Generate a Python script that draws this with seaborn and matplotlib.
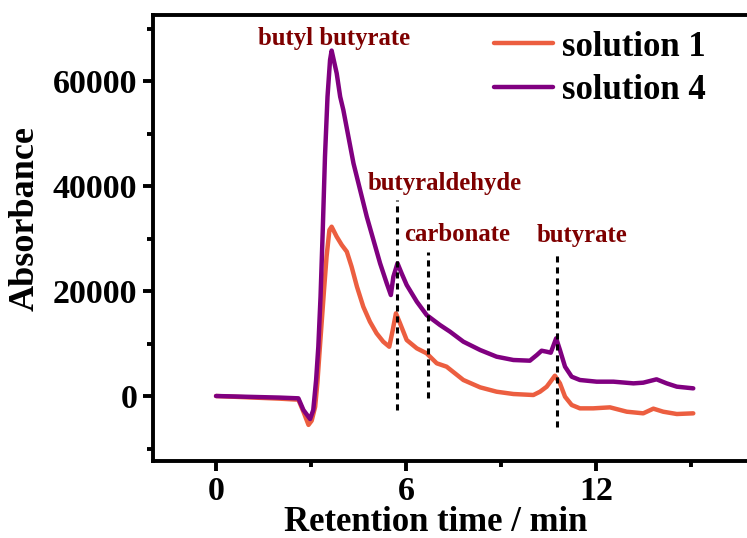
import matplotlib
matplotlib.use("Agg")
import matplotlib.pyplot as plt
import seaborn as sns
import pandas as pd
from matplotlib.ticker import MultipleLocator

sns.set_style("ticks")
plt.rcParams["font.family"] = ["Liberation Serif", "DejaVu Serif"]
plt.rcParams["font.weight"] = "bold"
for key in ["text.color", "axes.labelcolor", "xtick.color", "ytick.color",
            "axes.edgecolor"]:
    plt.rcParams[key] = "black"

# Chromatogram of solution 1
t_sol1 = [0, 1.0, 2.0, 2.6, 2.76, 2.92, 3.02, 3.13, 3.2, 3.28, 3.41, 3.49, 3.58, 3.65,
          3.81, 3.97, 4.13, 4.28, 4.45, 4.65, 4.86, 5.07, 5.28, 5.47, 5.58, 5.68, 5.81,
          6.02, 6.34, 6.65, 6.97, 7.28, 7.81, 8.34, 8.86, 9.39, 10.02, 10.23, 10.44,
          10.6, 10.7, 10.86, 11.02, 11.23, 11.49, 11.91, 12.44, 12.97, 13.49, 13.81,
          14.12, 14.55, 15.07]
y_sol1 = [0, -250, -500, -700, -3000, -5500, -4700, -2030, 2500, 9390, 20190, 26540,
          31620, 32250, 30350, 28770, 27490, 24640, 20820, 17010, 14150, 11940, 10350,
          9390, 12570, 15750, 13850, 10670, 9080, 8130, 6230, 5590, 3050, 1650, 820,
          380, 190, 820, 1770, 3050, 3870, 2410, -130, -1710, -2350, -2350, -2160,
          -2990, -3300, -2410, -2990, -3430, -3300]

# Chromatogram of solution 4
t_sol4 = [0, 1.0, 2.0, 2.6, 2.76, 2.97, 3.07, 3.16, 3.23, 3.30, 3.37, 3.44, 3.52, 3.60,
          3.65, 3.81, 3.92, 4.02, 4.18, 4.34, 4.55, 4.76, 4.97, 5.18, 5.39, 5.52, 5.60,
          5.73, 5.86, 6.02, 6.34, 6.65, 7.07, 7.39, 7.81, 8.34, 8.86, 9.39, 9.91,
          10.13, 10.28, 10.44, 10.57, 10.74, 10.86, 11.02, 11.23, 11.49, 12.02, 12.55,
          13.18, 13.49, 13.91, 14.23, 14.55, 15.07]
y_sol4 = [0, -150, -300, -440, -2670, -4380, -2670, 3050, 9390, 18920, 31620, 45590,
          57020, 64000, 65800, 61470, 57020, 54480, 49400, 44330, 39240, 34160, 29720,
          25280, 21470, 19240, 22730, 25280, 23370, 21150, 17970, 15430, 13530, 12250,
          10350, 8760, 7490, 6860, 6730, 7810, 8630, 8440, 8250, 10990, 8760, 5590,
          3680, 3050, 2730, 2730, 2410, 2540, 3180, 2410, 1780, 1460]

series_names = ["solution 1", "solution 4"]
series_colors = ["#EC5E40", "#800080"]

# Peak assignments: label, marker line position and extent, label anchor
peak_names = ["butyl butyrate", "butyraldehyde", "carbonate", "butyrate"]
peak_line_x = [None, 5.70, 6.68, 10.76]
peak_line_ymin = [None, -2700, -450, -5900]
peak_line_ymax = [None, 37300, 27500, 27500]
peak_label_x = [3.73, 7.23, 7.61, 11.56]
peak_label_y = [68100, 40400, 30700, 30500]

df = pd.concat([
    pd.DataFrame({"time": t_sol1, "absorbance": y_sol1, "sample": series_names[0]}),
    pd.DataFrame({"time": t_sol4, "absorbance": y_sol4, "sample": series_names[1]}),
], ignore_index=True)

fig = plt.figure(figsize=(7.47, 5.38), dpi=100)
ax = fig.add_axes([152.7 / 747, 77 / 538, 601.7 / 747, 446 / 538])

sns.lineplot(data=df, x="time", y="absorbance", hue="sample", hue_order=series_names,
             palette=series_colors, linewidth=3.2, sort=False, estimator=None, ax=ax)
for line in ax.get_lines():
    line.set_solid_joinstyle("round")
    line.set_solid_capstyle("round")

for name, lx, y0, y1, tx, ty in zip(peak_names, peak_line_x, peak_line_ymin,
                                    peak_line_ymax, peak_label_x, peak_label_y):
    if lx is not None:
        ax.plot([lx, lx], [y0, y1], color="black", lw=2.2, linestyle=(0, (2.0, 1.6)),
                zorder=3)
    ax.text(tx, ty, name, color="#7E0000", fontsize=17.8, fontweight="bold",
            ha="center", va="center")

ax.set_xlim(-2.0, 17.0)
ax.set_ylim(-12380, 72580)
ax.xaxis.set_major_locator(MultipleLocator(6))
ax.xaxis.set_minor_locator(MultipleLocator(3))
ax.yaxis.set_major_locator(MultipleLocator(20000))
ax.yaxis.set_minor_locator(MultipleLocator(10000))

for side in ["left", "bottom", "top", "right"]:
    ax.spines[side].set_linewidth(2.8)
    ax.spines[side].set_color("black")

ax.tick_params(which="major", direction="out", length=7, width=2.8, labelsize=24.5,
               pad=4, colors="black")
ax.tick_params(which="minor", direction="out", length=4, width=2.8, colors="black")
ax.tick_params(top=False, right=False, which="both")
for lab in ax.get_xticklabels() + ax.get_yticklabels():
    lab.set_fontweight("bold")

ax.set_xlabel("Retention time / min", fontsize=25, fontweight="bold", va="baseline")
ax.xaxis.set_label_coords(0.470, -0.157)
ax.set_ylabel("Absorbance", fontsize=26, fontweight="bold", va="center")
ax.yaxis.set_label_coords(-0.212, 0.5426)

leg = ax.legend(loc="upper left", bbox_to_anchor=(0.567, 0.965), frameon=False,
                fontsize=25, handlelength=1.7, handletextpad=0.25, labelspacing=0.3,
                borderpad=0, borderaxespad=0)
for line in leg.get_lines():
    line.set_linewidth(3.2)
for txt in leg.get_texts():
    txt.set_fontweight("bold")
    txt.set_color("black")

fig.savefig("out.png", dpi=100)
